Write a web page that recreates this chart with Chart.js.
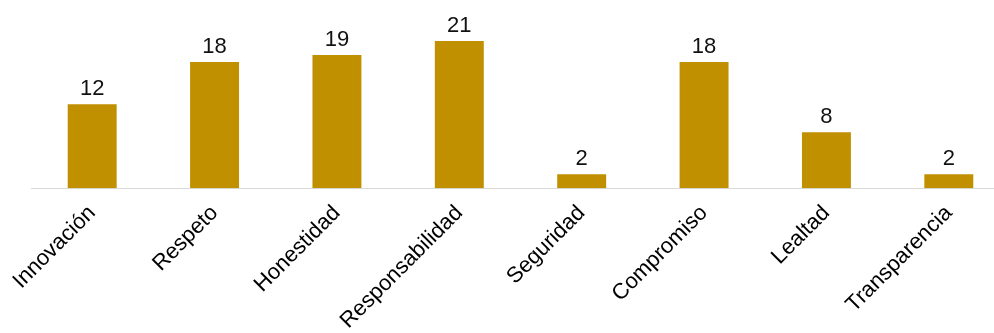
<!DOCTYPE html>
<html lang="es">
<head>
    <meta charset="UTF-8">
    <title>Valores</title>
    <style>
        html, body {
            margin: 0;
            padding: 0;
            background: #fff;
            overflow: hidden;
        }
        #chart-container {
            width: 1010px;
            height: 346px;
        }
    </style>
    <script src="https://cdn.jsdelivr.net/npm/chart.js"></script>
</head>
<body>
    <div id="chart-container">
        <canvas id="valoresChart"></canvas>
    </div>

    <script>
        const categorias = ['Innovación', 'Respeto', 'Honestidad', 'Responsabilidad', 'Seguridad', 'Compromiso', 'Lealtad', 'Transparencia'];
        const valores = [12, 18, 19, 21, 2, 18, 8, 2];

        // draw the value above each bar
        const etiquetasValor = {
            id: 'etiquetasValor',
            afterDatasetsDraw(chart) {
                const ctx = chart.ctx;
                const meta = chart.getDatasetMeta(0);
                ctx.save();
                ctx.font = '22px "Liberation Sans", Arial, sans-serif';
                ctx.fillStyle = '#111';
                ctx.textAlign = 'center';
                ctx.textBaseline = 'alphabetic';
                meta.data.forEach((bar, i) => {
                    ctx.fillText(valores[i], bar.x, bar.y - 9);
                });
                ctx.restore();
            }
        };

        const ctx = document.getElementById('valoresChart').getContext('2d');
        new Chart(ctx, {
            type: 'bar',
            data: {
                labels: categorias,
                datasets: [{
                    data: valores,
                    backgroundColor: '#c09000',
                    categoryPercentage: 1,
                    barPercentage: 0.4
                }]
            },
            options: {
                responsive: true,
                maintainAspectRatio: false,
                animation: false,
                layout: {
                    padding: { top: 20, left: 31, right: 0, bottom: 0 }
                },
                plugins: {
                    legend: { display: false },
                    tooltip: { enabled: false }
                },
                scales: {
                    x: {
                        grid: { display: false, drawTicks: false },
                        border: { color: '#d9d9d9', width: 1 },
                        ticks: {
                            color: '#000',
                            font: { family: '"Liberation Sans", Arial, sans-serif', size: 22 },
                            minRotation: 45,
                            maxRotation: 45,
                            padding: 12,
                            autoSkip: false
                        }
                    },
                    y: {
                        display: false,
                        min: 0,
                        max: 24
                    }
                }
            },
            plugins: [etiquetasValor]
        });
    </script>
</body>
</html>
